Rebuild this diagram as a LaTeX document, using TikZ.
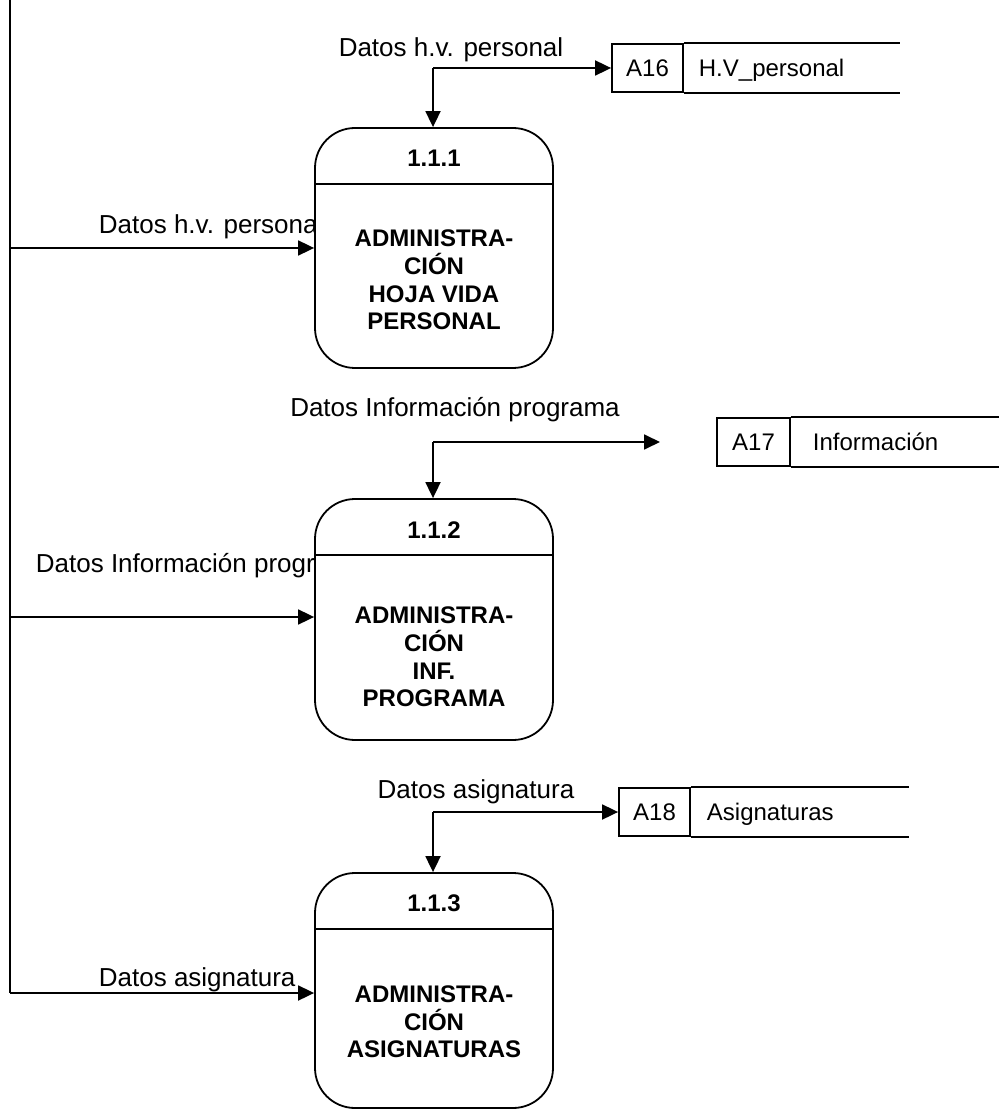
\documentclass[tikz,border=0pt]{standalone}
\usepackage{fontspec}
\setmainfont{Liberation Sans}
\usetikzlibrary{arrows.meta}
\begin{document}
\begin{tikzpicture}[x=0.5pt,y=-0.5pt,
  line width=0.9pt,
  arr/.style={-{Triangle[length=8pt,width=7.5pt]}},
  flow/.style={inner sep=0pt,font=\fontsize{13}{15.6}\selectfont},
  proc/.style={draw,fill=white,rounded corners=20pt,minimum width=119pt,inner sep=0pt},
  pnum/.style={font=\bfseries\fontsize{12}{13.8}\selectfont,inner sep=0pt},
  pbody/.style={font=\bfseries\fontsize{12}{13.8}\selectfont,align=center,inner sep=0pt},
  sid/.style={draw,minimum width=35.5pt,minimum height=24pt,inner sep=0pt,font=\fontsize{12}{13.8}\selectfont},
  sname/.style={anchor=west,inner sep=0pt,text height=8.6pt,text depth=0pt,font=\fontsize{12}{13.8}\selectfont}]
\useasboundingbox (0,0) rectangle (998,1111);

% flow labels (drawn first so the process boxes cover them)
\node[flow] (t1) at (451,50) {Datos h.v. personal};
\node[flow] (t2) at (455,410) {Datos Información programa};
\node[flow] (t3) at (476,792) {Datos asignatura};
\node[flow,anchor=west] (f1) at (98,227) {Datos h.v. personal};
\node[flow,anchor=west] (f2) at (35,566) {Datos Información programa};
\node[flow,anchor=west] (f3) at (98,980) {Datos asignatura};

% process boxes
\node[proc,minimum height=120pt] (p1) at (434,248) {};
\node[proc,minimum height=120.5pt] (p2) at (434,619.5) {};
\node[proc,minimum height=117.5pt] (p3) at (434,990.5) {};
\foreach \p in {p1,p2,p3}{
  \draw ([yshift=-28.5pt]\p.north west) -- ([yshift=-28.5pt]\p.north east);
}
\node[pnum] (n1) at (434,158) {1.1.1};
\node[pnum] (n2) at (434,530) {1.1.2};
\node[pnum] (n3) at (434,903) {1.1.3};
\node[pbody] (b1) at (434,280) {ADMINISTRA-\\CIÓN\\HOJA VIDA\\PERSONAL};
\node[pbody] (b2) at (434,657) {ADMINISTRA-\\CIÓN\\INF.\\PROGRAMA};
\node[pbody] (b3) at (434,1022) {ADMINISTRA-\\CIÓN\\ASIGNATURAS};

% data stores
\node[sid] (a16) at (647.5,68) {A16};
\draw (a16.north east) -- ++(216,0) (a16.south east) -- ++(216,0);
\node[sname] (a16n) at (698,68) {H.V\_personal};
\node[sid,minimum width=36.5pt] (a17) at (753.5,442) {A17};
\draw (a17.north east) -- ++(220,0) (a17.south east) -- ++(220,0);
\node[sname] (a17n) at (812,442) {Información};
\node[sid] (a18) at (654.5,812) {A18};
\draw (a18.north east) -- ++(218,0) (a18.south east) -- ++(218,0);
\node[sname] (a18n) at (706,812) {Asignaturas};

% left trunk line
\coordinate (top) at (10,0);
\coordinate (l1) at (10,248);
\coordinate (l2) at (10,617);
\coordinate (l3) at (10,993);
\draw (top) -- (l3);
\draw[arr] (l1) -- (l1 -| p1.west);
\draw[arr] (l2) -- (l2 -| p2.west);
\draw[arr] (l3) -- (l3 -| p3.west);

% top junctions
\coordinate (j1) at (433,68);
\coordinate (j2) at (433,442);
\coordinate (j3) at (433,812);
\coordinate (e2) at (660,442);
\draw[arr] (j1) -- (a16.west);
\draw[arr] (j1) -- (j1 |- p1.north);
\draw[arr] (j2) -- (e2);
\draw[arr] (j2) -- (j2 |- p2.north);
\draw[arr] (j3) -- (a18.west);
\draw[arr] (j3) -- (j3 |- p3.north);
\end{tikzpicture}
\end{document}
